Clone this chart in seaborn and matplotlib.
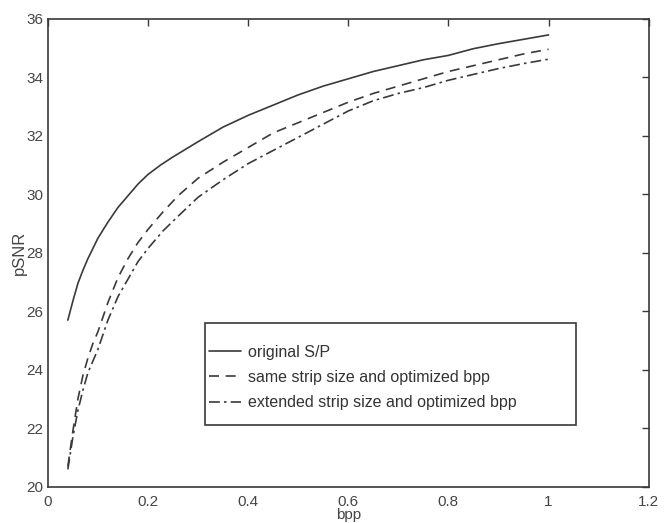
import matplotlib
matplotlib.use("Agg")
import matplotlib.pyplot as plt
from matplotlib.patches import Rectangle
import seaborn as sns
import pandas as pd

# curve data (bpp -> pSNR)
bpp_orig = [0.04, 0.05, 0.06, 0.07, 0.08, 0.10, 0.12, 0.14, 0.16, 0.18, 0.20, 0.225, 0.25,
            0.30, 0.35, 0.40, 0.45, 0.50, 0.55, 0.60, 0.65, 0.70, 0.75, 0.80, 0.85, 0.90,
            0.95, 1.00]
psnr_orig = [25.7, 26.35, 26.95, 27.4, 27.8, 28.5, 29.05, 29.55, 29.95, 30.35, 30.68, 31.0, 31.28,
             31.8, 32.3, 32.7, 33.05, 33.4, 33.7, 33.95, 34.2, 34.4, 34.6, 34.75, 34.98, 35.15,
             35.3, 35.45]

bpp_opt = [0.04, 0.05, 0.06, 0.07, 0.08, 0.09, 0.10, 0.12, 0.14, 0.16, 0.18, 0.20, 0.23,
           0.26, 0.30, 0.35, 0.40, 0.45, 0.50, 0.55, 0.60, 0.65, 0.70, 0.75, 0.80, 0.85,
           0.90, 0.95, 1.00]
psnr_same = [20.7, 21.9, 23.0, 23.8, 24.4, 24.9, 25.3, 26.3, 27.15, 27.8, 28.35, 28.8, 29.4,
             29.95, 30.55, 31.1, 31.6, 32.1, 32.45, 32.8, 33.15, 33.45, 33.7, 33.95, 34.2, 34.4,
             34.6, 34.8, 34.96]
psnr_ext = [20.6, 21.7, 22.6, 23.3, 23.9, 24.3, 24.7, 25.7, 26.5, 27.1, 27.7, 28.15, 28.75,
            29.25, 29.9, 30.5, 31.05, 31.5, 31.95, 32.4, 32.85, 33.2, 33.45, 33.65, 33.9, 34.1,
            34.3, 34.47, 34.62]

labels = ["original S/P", "same strip size and optimized bpp",
          "extended strip size and optimized bpp"]

sns.set_style("white")
plt.rcParams['font.family'] = ['Liberation Sans', 'DejaVu Sans']

fig = plt.figure(figsize=(6.64, 5.23), dpi=100)
ax = fig.add_axes([0.072, 0.069, 0.905, 0.895])

ink = '#3a3a3a'
txt = '#454545'
df1 = pd.DataFrame({'bpp': bpp_orig, 'pSNR': psnr_orig})
df2 = pd.DataFrame({'bpp': bpp_opt, 'pSNR': psnr_same})
df3 = pd.DataFrame({'bpp': bpp_opt, 'pSNR': psnr_ext})
sns.lineplot(data=df1, x='bpp', y='pSNR', ax=ax, color=ink, lw=1.2, linestyle='-', label=labels[0])
sns.lineplot(data=df2, x='bpp', y='pSNR', ax=ax, color=ink, lw=1.2, linestyle=(0, (6, 4)), label=labels[1])
sns.lineplot(data=df3, x='bpp', y='pSNR', ax=ax, color=ink, lw=1.2, linestyle=(0, (6.5, 2.5, 1.5, 2.5)), label=labels[2])

ax.set_xlim(0, 1.2)
ax.set_ylim(20, 36)
ax.set_xticks([0, 0.2, 0.4, 0.6, 0.8, 1.0, 1.2])
ax.set_xticklabels(["0", "0.2", "0.4", "0.6", "0.8", "1", "1.2"])
ax.set_yticks(range(20, 37, 2))
ax.tick_params(direction='in', top=True, right=True, length=5, width=1, colors=ink,
               labelsize=11, labelcolor=txt)
ax.tick_params(axis='x', pad=6)
ax.tick_params(axis='y', pad=3)
for s in ax.spines.values():
    s.set_color(ink)
    s.set_linewidth(1.2)
ax.set_xlabel('bpp', fontsize=11, color=txt, labelpad=-1)
ax.set_ylabel('pSNR', fontsize=12, color=txt, labelpad=0)

# legend frame drawn separately so the box can be larger than its content
ax.add_patch(Rectangle((0.261, 0.132), 0.618, 0.218, transform=ax.transAxes,
                       facecolor='white', edgecolor=ink, lw=1.2, zorder=5))
leg = ax.legend(loc='upper left', bbox_to_anchor=(0.2685, 0.304), frameon=False,
                fontsize=11.5, handlelength=2.0, borderaxespad=0, borderpad=0,
                labelspacing=0.65, handletextpad=0.45)
leg.set_zorder(6)
for t in leg.get_texts():
    t.set_color('#333333')

fig.savefig('out.png', dpi=100)
